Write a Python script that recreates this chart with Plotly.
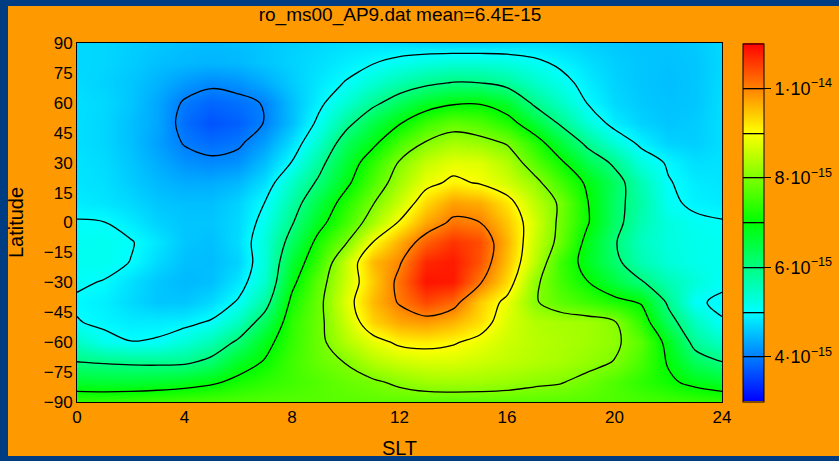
import numpy as np
import plotly.graph_objects as go

# Grid axes
slt = list(range(0, 25))                      # SLT hours
lat_desc = [90, 80, 70, 60, 50, 40, 30, 20, 10, 0, -10, -20, -30, -40, -50, -60, -70, -80, -90]

# Density values in units of 1e-15, rows from lat 90 (top) to -90 (bottom), columns SLT 0..24
rows_e15 = [
    [4.7,4.68,4.62,4.56,4.5,4.47,4.5,4.56,4.63,4.7,4.75,4.77,4.74,4.68,4.65,4.65,4.68,4.72,4.7,4.62,4.57,4.53,4.53,4.58,4.7],
    [4.7,4.68,4.6,4.5,4.45,4.42,4.45,4.55,4.65,4.75,4.87,4.98,5.12,5.25,5.32,5.32,5.25,5.1,4.92,4.75,4.62,4.55,4.52,4.55,4.7],
    [4.72,4.65,4.55,4.4,4.2,4.08,4.15,4.35,4.6,4.82,5.02,5.35,5.65,5.88,6.03,6.0,5.8,5.45,5.15,4.85,4.65,4.55,4.5,4.55,4.72],
    [4.75,4.7,4.55,4.3,3.95,3.8,3.88,4.03,4.5,4.9,5.35,5.85,6.3,6.7,6.92,6.95,6.65,5.9,5.45,4.98,4.7,4.58,4.52,4.55,4.75],
    [4.75,4.68,4.5,4.3,3.85,3.65,3.75,4.02,4.5,5.1,5.8,6.45,6.95,7.45,7.75,7.6,7.25,6.6,5.9,5.3,4.85,4.65,4.55,4.6,4.75],
    [4.75,4.68,4.5,4.25,3.97,3.85,3.93,4.25,4.75,5.4,6.3,6.85,7.55,8.05,8.3,8.2,7.95,7.3,6.55,5.85,5.3,4.9,4.65,4.62,4.75],
    [4.78,4.72,4.55,4.35,4.15,4.08,4.15,4.5,5.02,5.8,6.6,7.35,8.05,8.55,8.8,8.75,8.4,7.7,7.1,6.4,5.9,5.25,4.95,4.75,4.78],
    [4.8,4.75,4.6,4.45,4.35,4.35,4.45,4.75,5.45,6.1,6.85,7.6,8.3,8.85,9.1,8.95,8.65,8.2,7.5,6.9,6.25,5.6,5.03,4.85,4.8],
    [4.85,4.8,4.7,4.55,4.5,4.5,4.65,5.01,5.7,6.5,7.25,7.95,8.6,9.3,9.75,9.65,9.2,8.5,7.9,7.02,6.2,5.7,5.1,4.9,4.85],
    [5.03,5.01,4.85,4.65,4.55,4.55,4.7,5.15,5.95,6.8,7.5,8.3,9.05,9.7,10.1,10.0,9.45,8.7,7.85,7.05,6.2,5.6,5.25,5.1,5.03],
    [5.1,5.12,5.03,4.8,4.55,4.5,4.72,5.3,6.25,7.2,7.95,9.0,9.65,10.25,10.6,10.4,9.6,8.6,7.8,6.8,6.05,5.5,5.25,5.15,5.1],
    [5.12,5.12,4.99,4.7,4.5,4.48,4.65,5.3,6.6,7.45,8.55,9.55,9.95,10.7,10.8,10.35,9.5,8.5,7.45,6.75,6.15,5.6,5.3,5.15,5.12],
    [5.05,4.98,4.75,4.55,4.45,4.5,4.8,5.4,6.85,7.75,8.6,9.4,10.15,10.85,10.8,10.05,9.3,8.15,7.5,7.02,6.5,6.05,5.6,5.3,5.05],
    [4.95,4.88,4.7,4.55,4.55,4.7,5.05,5.75,7.15,7.85,8.75,9.55,10.05,10.45,10.2,9.4,8.85,8.07,7.7,7.45,7.2,6.95,5.9,5.04,4.95],
    [5.02,4.93,4.85,4.85,4.88,5.05,5.5,6.3,7.35,7.85,8.6,9.35,9.7,9.8,9.6,9.25,8.7,8.4,8.3,8.25,8.05,7.35,6.25,5.5,5.02],
    [5.45,5.12,5.01,5.05,5.3,5.6,6.1,6.8,7.4,7.85,8.4,8.8,9.1,9.15,9.05,8.85,8.6,8.45,8.35,8.25,8.1,7.7,6.8,5.8,5.45],
    [6.01,5.95,5.9,5.88,5.9,6.15,6.7,7.05,7.5,7.8,8.02,8.4,8.6,8.7,8.7,8.6,8.5,8.4,8.3,8.15,7.98,7.55,6.95,6.3,6.01],
    [6.65,6.6,6.6,6.65,6.75,6.9,7.15,7.35,7.5,7.65,7.8,7.92,8.1,8.25,8.28,8.26,8.2,8.1,8.03,7.85,7.6,7.35,7.1,6.85,6.65],
    [7.4,7.42,7.45,7.5,7.55,7.6,7.62,7.65,7.67,7.68,7.7,7.72,7.72,7.72,7.72,7.72,7.72,7.7,7.68,7.65,7.6,7.55,7.5,7.45,7.4],
]

x_ticks = [0, 4, 8, 12, 16, 20, 24]
y_ticks = [-90, -75, -60, -45, -30, -15, 0, 15, 30, 45, 60, 75, 90]
cb_tickvals = [4e-15, 6e-15, 8e-15, 1e-14]
cb_ticktext = ["4·10<sup>−15</sup>", "6·10<sup>−15</sup>", "8·10<sup>−15</sup>", "1·10<sup>−14</sup>"]
title_text = "ro_ms00_AP9.dat mean=6.4E-15"

z = (np.array(rows_e15) * 1e-15)[::-1]
lat = lat_desc[::-1]

W, H = 839, 461
L, R, T, B = 77, 117, 43, 59
PW, PH = W - L - R, H - T - B

def px_x(px):
    return (px - L) / PW

def px_y(py):
    return (H - B - py) / PH

colorscale = [[0.0, "rgb(0,0,255)"], [0.25, "rgb(0,255,255)"], [0.5, "rgb(0,255,0)"],
              [0.75, "rgb(255,255,0)"], [1.0, "rgb(255,0,0)"]]

font_fam = "Liberation Sans, Arial, Helvetica, sans-serif"

fig = go.Figure(go.Contour(
    x=slt, y=lat, z=z,
    zmin=3e-15, zmax=1.1e-14,
    colorscale=colorscale,
    contours=dict(start=4e-15, end=1e-14, size=1e-15, coloring="heatmap", showlines=True),
    line=dict(color="black", width=1.3, smoothing=1.0),
    colorbar=dict(
        thickness=21, len=358, lenmode="pixels",
        x=px_x(743), xanchor="left", xpad=0,
        y=0.5, yanchor="middle", ypad=0,
        outlinecolor="black", outlinewidth=1,
        ticks="outside", ticklen=7, tickcolor="black", tickwidth=1,
        tickvals=cb_tickvals, ticktext=cb_ticktext,
        tickfont=dict(size=18, color="black", family=font_fam),
    ),
    hoverinfo="skip",
))

blue = "#003C82"
shapes = [
    dict(type="rect", xref="paper", yref="paper", x0=px_x(-2), x1=px_x(8), y0=px_y(H + 2), y1=px_y(-2),
         fillcolor=blue, line=dict(width=0), layer="below"),
    dict(type="rect", xref="paper", yref="paper", x0=px_x(-2), x1=px_x(W + 2), y0=px_y(6), y1=px_y(-2),
         fillcolor=blue, line=dict(width=0), layer="below"),
    dict(type="rect", xref="paper", yref="paper", x0=px_x(-2), x1=px_x(W + 2), y0=px_y(H + 2), y1=px_y(456),
         fillcolor=blue, line=dict(width=0), layer="below"),
]

fig.update_layout(
    template="none",
    width=W, height=H,
    margin=dict(l=L, r=R, t=T, b=B, pad=0, autoexpand=False),
    paper_bgcolor="#FF9900", plot_bgcolor="#FF9900",
    font=dict(family=font_fam, color="black", size=17),
    title=dict(text=title_text, x=px_x(400), xref="paper", xanchor="center",
               y=1 - 14 / H, yref="container", yanchor="middle",
               font=dict(size=19, color="black")),
    shapes=shapes,
    xaxis=dict(range=[0, 24], tickvals=x_ticks, ticks="", showgrid=False, zeroline=False,
               automargin=False, showline=True, mirror=True, linecolor="black", linewidth=1,
               tickfont=dict(size=17), title=dict(text="SLT", standoff=14, font=dict(size=20))),
    yaxis=dict(range=[-90, 90], tickvals=y_ticks, ticks="", showgrid=False, zeroline=False,
               automargin=False, showline=True, mirror=True, linecolor="black", linewidth=1,
               tickfont=dict(size=17), title=dict(text="Latitude", standoff=14, font=dict(size=20))),
)

fig.write_html("out.html")
